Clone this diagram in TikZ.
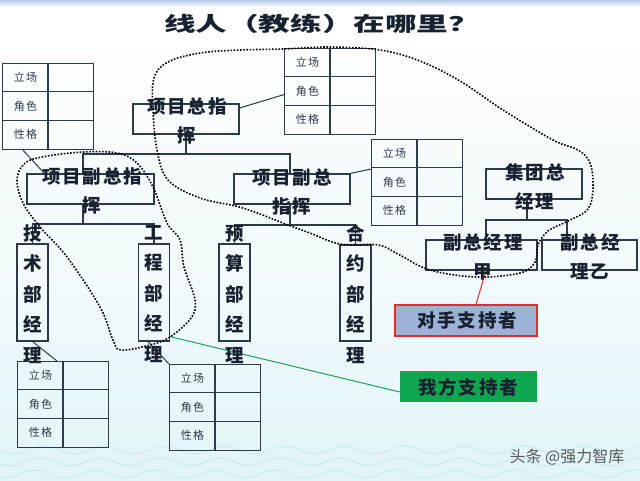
\documentclass[tikz,border=0pt]{standalone}
\usepackage{fontspec}
\setmainfont{Noto Sans CJK SC}
\newfontfamily\boxfont[LetterSpace=10]{Noto Sans CJK SC}
\newfontfamily\tabfont[LetterSpace=12]{Noto Sans CJK SC}
\usetikzlibrary{calc}
\definecolor{linec}{HTML}{2E3A46}
\definecolor{txtc}{HTML}{18212F}
\definecolor{bgmid}{HTML}{F1FAFC}
\definecolor{bgbot}{HTML}{CDEEF4}
\definecolor{bandc}{HTML}{B3CCEA}
\definecolor{oppfill}{HTML}{9CB2D6}
\definecolor{oppdraw}{HTML}{E32B2B}
\definecolor{ourfill}{HTML}{0FA650}
\definecolor{ourline}{HTML}{1E9E5E}
\definecolor{wavec}{HTML}{B5DFE8}
\pgfdeclareverticalshading{bgsh}{100bp}{color(0bp)=(bgbot); color(45bp)=(bgmid); color(75bp)=(white); color(100bp)=(white)}
\tikzset{
 tline/.style={draw=linec, line width=1.2pt},
 ttxt/.style={text=linec, inner sep=0pt, font=\tabfont\fontsize{11}{13}\selectfont},
 roletab/.pic={
  \node[tline, minimum width=91pt, minimum height=86pt, anchor=north west, inner sep=0pt] (-box) at (0,0) {};
  \draw[tline] (46,0) -- (46,86) (0,28.7) -- (91,28.7) (0,57.3) -- (91,57.3);
  \node[ttxt] (-a) at (23.5,14.3) {立场};
  \node[ttxt] (-b) at (23.5,43) {角色};
  \node[ttxt] (-c) at (23.5,71.7) {性格};
 }
}
\begin{document}
\begin{tikzpicture}[x=1pt,y=-1pt,
 box/.style={draw=linec, line width=1.2pt, inner sep=0pt, minimum height=30pt},
 btxt/.style={text=txtc, align=center, inner sep=0pt, font=\boxfont\bfseries\fontsize{18.5}{29}\selectfont},
 vtxt/.style={text=txtc, align=center, inner sep=0pt, font=\boxfont\bfseries\fontsize{18.5}{30.5}\selectfont},
 conn/.style={linec, line width=1.2pt},
 loopline/.style={black, line width=1.6pt, dash pattern=on 1.6pt off 1.6pt},
 wave/.style={wavec, line width=0.9pt, opacity=0.6}
]
\useasboundingbox (0,0) rectangle (640,480);
% background
\fill[shading=bgsh] (0,0) rectangle (640,480);
\fill[top color=bandc, bottom color=white] (0,0) rectangle (640,7);
\foreach \yy/\ph in {450/0, 462/30, 474/60}{
  \draw[wave] plot[domain=0:640, samples=160, smooth] (\x,{\yy+4*sin(6*\x+\ph)});
}
% title
\node[text=txtc] (title) at (322,24) {\scalebox{1.58}[1]{\bfseries\fontsize{20}{24}\selectfont 线人（教练）在哪里？}};

% role tables
\pic (t1) at (2,63) {roletab};
\pic (t2) at (284,48) {roletab};
\pic (t3) at (371,139) {roletab};
\pic (t4) at (17,361) {roletab};
\pic (t5) at (169,364) {roletab};

% boxes
\node[box, minimum width=106pt] (zong) at (186,119) {};
\node[box, minimum width=127pt] (fuL) at (90.5,189) {};
\node[box, minimum width=116pt] (fuR) at (292,189) {};
\node[box, minimum width=96pt] (jt) at (534,184) {};
\node[box, minimum width=111pt] (fzA) at (481.5,255) {};
\node[box, minimum width=95pt] (fzB) at (589.5,255) {};
\node[box, minimum width=31pt, minimum height=97pt] (jishu) at (32.5,292.5) {};
\node[box, minimum width=31pt, minimum height=97pt] (gong) at (154,292.5) {};
\node[box, minimum width=31pt, minimum height=97pt] (yusuan) at (234.5,292.5) {};
\node[box, minimum width=31pt, minimum height=96pt] (heyue) at (355.5,293) {};
\node[draw=oppdraw, fill=oppfill, line width=1.2pt, inner sep=0pt, minimum width=142pt, minimum height=31pt] (duishou) at (466,320.5) {};
\node[fill=ourfill, inner sep=0pt, minimum width=137pt, minimum height=31pt] (wofang) at (468.5,386.5) {};

% connectors
\coordinate (bz) at (186,154);
\draw[conn] (zong.south) -- (bz);
\draw[conn] ([xshift=-7.5pt]fuL.north) |- (bz) -| ([xshift=-2pt]fuR.north);
\coordinate (bl) at (83,224);
\draw[conn] ([xshift=-7.5pt]fuL.south) -- (bl);
\draw[conn] (jishu.north) |- (bl) -| (gong.north);
\coordinate (br) at (290,225);
\draw[conn] ([xshift=-2pt]fuR.south) -- (br);
\draw[conn] (yusuan.north) |- (br) -| (heyue.north);
\coordinate (bj) at (527,220);
\draw[conn] ([xshift=-7pt]jt.south) -- (bj);
\draw[conn] ([xshift=4.5pt]fzA.north) |- (bj) -| ([xshift=-22.5pt]fzB.north);

\draw[conn, line width=1pt] ([yshift=11pt]zong.east) -- ([yshift=-3pt]t2-box.west);
\draw[conn, line width=1pt] ([xshift=21pt]t1-box.south west) -- ([xshift=18pt]fuL.north west);
\draw[conn, line width=1pt] (fuR.north east) -- ([yshift=-30pt]t3-box.north west);
\draw[conn, line width=1pt] (jishu.south) -- ([xshift=40pt]t4-box.north west);
\draw[conn, line width=1pt] ([xshift=-6pt]gong.south) -- (t5-box.north west);
\draw[oppdraw, line width=1pt] ([xshift=4.5pt]fzA.south) -- ([xshift=10pt]duishou.north);
\draw[ourline, line width=1pt] ([yshift=5pt]gong.south east) -- ([yshift=-5.5pt]wofang.west);

% texts
\node[btxt] (zongt) at (187,121) {项目总指\\挥};
\node[btxt] (fuLt) at (92,191) {项目副总指\\挥};
\node[btxt] (fuRt) at (292,192) {项目副总\\指挥};
\node[btxt] (jtt) at (535,187) {集团总\\经理};
\node[btxt] (fzAt) at (483,257) {副总经理\\甲};
\node[btxt] (fzBt) at (590,257) {副总经\\理乙};
\node[vtxt] (jishut) at (33,294) {技\\术\\部\\经\\理};
\node[vtxt] (gongt) at (154,294) {工\\程\\部\\经\\理};
\node[vtxt] (yusuant) at (235,294) {预\\算\\部\\经\\理};
\node[vtxt] (heyuet) at (356,294) {合\\约\\部\\经\\理};
\node[btxt] (duishout) at (467,320.5) {对手支持者};
\node[btxt] (wofangt) at (468,387) {我方支持者};

% dotted loops
\draw[loopline] plot[smooth cycle, tension=0.6] coordinates {
 (154,78) (168,62) (200,53) (240,50) (283,49) (330,47) (380,50) (420,61) (460,81)
 (503,110) (553,140) (578,150) (590,163) (593,187) (588,209) (568,221) (548,231)
 (538,245) (535,262) (520,273) (477,277) (430,270) (398,254) (378,245) (340,244)
 (310,233) (288,225) (243,208) (200,198) (168,180) (157,150) (153,110)};
\draw[loopline] plot[smooth cycle, tension=0.6] coordinates {
 (17,180) (24,164) (42,157) (83,152) (117,153) (137,163) (153,187) (167,223)
 (180,240) (184,267) (195,300) (191,318) (170,337) (150,345) (121,350) (113,340)
 (100,307) (67,257) (40,227) (23,203)};

% watermark
\node[text=black!65, font=\fontsize{16}{18}\selectfont] (wm) at (567,457) {头条 @强力智库};
\end{tikzpicture}
\end{document}
